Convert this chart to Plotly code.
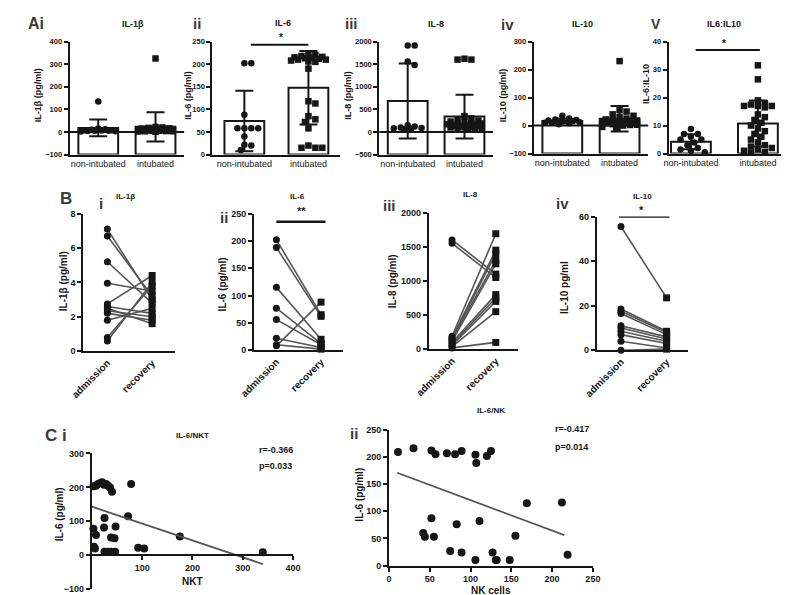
import numpy as np
import plotly.graph_objects as go

W, H = 789, 595
FONT = "Liberation Sans"
INK = "#161616"
GRAY = "#555555"

# ---------------- data: row A (non-intubated vs intubated) ----------------
groups_A = ["non-intubated", "intubated"]
il1b_non = [135, 15, 12, 10, 8, 8, 6, 5, 5, 4, 3, 2]
il1b_int = [325, 22, 20, 18, 16, 15, 14, 12, 12, 10, 10, 9, 8, 8, 7, 6, 6, 5, 5, 4, 3, 3, 2, 1]
il6_non = [202, 202, 88, 58, 58, 58, 58, 40, 22, 20, 10]
il6_int = [222, 220, 218, 216, 215, 214, 213, 212, 210, 210, 208, 206, 205, 190,
           118, 113, 85, 78, 72, 58, 20, 15, 15, 15]
il8_non = [1910, 1910, 1560, 1480, 150, 120, 100, 90, 80, 70, 60]
il8_int = [1600, 1620, 1600, 350, 300, 280, 250, 230, 220, 200, 190, 180, 170, 160,
           150, 140, 130, 120, 110, 100, 100, 90, 80, 70, 60]
il10_non = [35, 25, 22, 20, 18, 15, 15, 12, 10, 10, 8, 5]
il10_int = [230, 55, 50, 40, 35, 30, 25, 22, 20, 18, 15, 15, 12, 12, 10, 10, 8, 8,
            5, 5, 3, 2, 0, -5, -10]
ratio_non = [8.8, 7, 7, 6, 5, 5, 4, 3, 2, 1.5, 1, 0.5]
ratio_int = [31.5, 26.5, 19, 18, 17.5, 17, 17, 17, 16.5, 14, 13, 12, 11, 10, 9, 8,
             7, 6, 5, 4, 3, 2.5, 2, 1.5, 1, 0.5, 0.3]

ticks_il1b = [-100, 0, 100, 200, 300, 400]
ticks_il6 = [0, 50, 100, 150, 200, 250]
ticks_il8 = [-500, 0, 500, 1000, 1500, 2000]
ticks_il10 = [-100, 0, 100, 200, 300]
ticks_ratio = [0, 10, 20, 30, 40]

# ---------------- data: row B (admission vs recovery, paired) ----------------
groups_B = ["admission", "recovery"]
b_il1b_adm = [7.1, 6.7, 5.2, 3.95, 2.75, 2.6, 2.5, 2.35, 2.2, 1.8, 0.8, 0.6]
b_il1b_rec = [3.0, 3.2, 2.8, 3.5, 4.4, 2.2, 1.6, 2.0, 1.8, 2.5, 3.8, 4.0]
b_il6_adm = [202, 188, 115, 77, 56, 22, 10, 8]
b_il6_rec = [65, 62, 20, 12, 10, 5, 2, 88]
b_il8_adm = [1600, 1550, 190, 170, 150, 140, 120, 100, 80, 60, 40, 20]
b_il8_rec = [1100, 1050, 1690, 1450, 1400, 1300, 1250, 800, 750, 700, 550, 100]
b_il10_adm = [55.5, 18.5, 17.5, 16.5, 11, 10, 8.5, 7, 4, 0]
b_il10_rec = [23.5, 8.5, 8, 7, 6, 5, 4, 3, 1, 0.5]

ticks_b_il1b = [0, 2, 4, 6, 8]
ticks_b_il6 = [0, 50, 100, 150, 200, 250]
ticks_b_il8 = [0, 500, 1000, 1500, 2000]
ticks_b_il10 = [0, 20, 40, 60]

# ---------------- data: row C (correlations) ----------------
nkt_x = [3, 8, 12, 16, 20, 24, 28, 32, 36, 40, 78, 72, 175, 340, 3, 8, 4, 6,
         25, 24, 47, 38, 45, 25, 32, 38, 46, 92, 104]
nkt_il6 = [203, 205, 210, 212, 215, 208, 210, 205, 200, 187, 210, 115, 55, 9, 78, 60,
           25, 20, 110, 82, 85, 52, 50, 10, 10, 10, 10, 22, 20]
nkt_fit_x = [0, 340]
nkt_fit_y = [143, -26]
nk_x = [11, 30, 52, 57, 71, 81, 89, 106, 107, 120, 125, 169, 212, 52, 83, 111, 42,
        44, 55, 155, 75, 89, 106, 127, 131, 132, 148, 219]
nk_il6 = [209, 216, 212, 205, 207, 205, 211, 204, 189, 202, 211, 115, 116, 87, 76, 82,
          60, 53, 53, 55, 27, 24, 10, 24, 10, 10, 10, 20]
nk_fit_x = [10, 215]
nk_fit_y = [171, 56]
ticks_nkt_x = [100, 200, 300, 400]
ticks_nkt_y = [-100, 0, 100, 200, 300]
ticks_nk = [0, 50, 100, 150, 200, 250]


# ---------------- helpers ----------------
def PX(x):
    return x / W


def PY(y):
    return 1 - y / H


def ax(**kw):
    d = dict(showline=True, linecolor=INK, linewidth=2, showgrid=False, zeroline=False,
             ticks="outside", ticklen=4, tickwidth=2, tickcolor=INK,
             tickfont=dict(family=FONT, size=8, color=INK, weight="bold"),
             fixedrange=True)
    d.update(kw)
    return d


def swarm(vals, ypx, xpx, d=6.5, maxw=20):
    vals = np.asarray(vals, float)
    order = np.argsort(-vals)
    placed = []
    offs = np.zeros(len(vals))
    step = d * 0.55
    cands = [0.0]
    k = 1
    while k * step <= maxw:
        cands += [k * step, -k * step]
        k += 1
    for i in order:
        y = vals[i] * ypx
        best, bestscore = 0.0, -1
        for c in cands:
            md = min([np.hypot(c - a, y - b) for a, b in placed], default=1e9)
            if md >= d:
                best = c
                break
            if md > bestscore:
                bestscore, best = md, c
        offs[i] = best / xpx
        placed.append((best, y))
    return offs


fig = go.Figure()
layout = {}
shapes = []
annots = []


def names(i):
    return ("x" if i == 1 else f"x{i}"), ("y" if i == 1 else f"y{i}")


def lname(i, a):
    return f"{a}axis" if i == 1 else f"{a}axis{i}"


def txt(x, y, s, size=9, bold=True, angle=0, color=INK, xanchor="center"):
    annots.append(dict(x=PX(x), y=PY(y), xref="paper", yref="paper", text=s,
                       showarrow=False, textangle=angle, xanchor=xanchor, yanchor="middle",
                       font=dict(family=FONT, size=size, color=color,
                                 weight="bold" if bold else "normal")))


# ---------------- row A ----------------
A_panels = [
    dict(non=il1b_non, inn=il1b_int, xdom=(48, 166), xr=(-0.5, 1.5), ydom=(29, 144),
         yr=(-100, 400), ticks=ticks_il1b, zero=True),
    dict(non=il6_non, inn=il6_int, xdom=(195, 327), xr=(-0.5, 1.5), ydom=(29, 144),
         yr=(0, 250), ticks=ticks_il6, zero=False),
    dict(non=il8_non, inn=il8_int, xdom=(367, 484), xr=(-0.5, 1.5), ydom=(29, 144),
         yr=(-500, 2000), ticks=ticks_il8, zero=True),
    dict(non=il10_non, inn=il10_int, xdom=(526, 644), xr=(-0.5, 1.5), ydom=(29, 143),
         yr=(-100, 300), ticks=ticks_il10, zero=True),
    dict(non=ratio_non, inn=ratio_int, xdom=(665, 789), xr=(-0.333, 1.464), ydom=(29, 143),
         yr=(0, 40), ticks=ticks_ratio, zero=False),
]

for k, p in enumerate(A_panels):
    i = k + 1
    xs, ys = names(i)
    ymin, ymax = p["yr"]
    xpx = (p["xdom"][1] - p["xdom"][0]) / (p["xr"][1] - p["xr"][0])
    ypx = (p["ydom"][1] - p["ydom"][0]) / (ymax - ymin)
    bw = 41 / xpx
    for g, (vals, sym) in enumerate([(p["non"], "circle"), (p["inn"], "square")]):
        v = np.array(vals, float)
        m, sd = v.mean(), v.std(ddof=1)
        fig.add_trace(go.Bar(x=[g], y=[m - ymin], base=[ymin], width=bw, xaxis=xs, yaxis=ys,
                             marker=dict(color="white", line=dict(color=INK, width=2)),
                             showlegend=False, hoverinfo="skip"))
        fig.add_trace(go.Scatter(x=[g], y=[m], mode="markers", xaxis=xs, yaxis=ys,
                                 marker=dict(size=1, color="rgba(0,0,0,0)"),
                                 error_y=dict(type="data", array=[sd], color=INK,
                                              thickness=2, width=9),
                                 showlegend=False, hoverinfo="skip"))
        offs = swarm(v, ypx, xpx, d=6.5, maxw=19)
        fig.add_trace(go.Scatter(x=g + offs, y=v, mode="markers", xaxis=xs, yaxis=ys,
                                 marker=dict(symbol=sym, size=6.5, color=INK),
                                 cliponaxis=False, showlegend=False, hoverinfo="skip"))
    layout[lname(i, "x")] = ax(domain=[PX(p["xdom"][0]), PX(p["xdom"][1])], range=list(p["xr"]),
                               anchor=ys, tickvals=[0, 1], ticktext=groups_A, ticks="",
                               tickfont=dict(family=FONT, size=9, color=INK))
    layout[lname(i, "y")] = ax(domain=[PY(p["ydom"][1]), PY(p["ydom"][0])], range=[ymin, ymax],
                               anchor=xs, tickvals=p["ticks"],
                               tickfont=dict(family=FONT, size=7.5, color=INK, weight="bold"))
    if p["zero"]:
        shapes.append(dict(type="line", xref=f"{xs} domain", yref=ys, x0=0, x1=1, y0=0, y1=0,
                           line=dict(color=INK, width=2), layer="above"))

# significance bars row A
shapes.append(dict(type="line", xref="x2", yref="y2", x0=0.1, x1=1.0, y0=243, y1=243,
                   line=dict(color=INK, width=2)))
txt(266, 25, "*", size=10)
shapes.append(dict(type="line", xref="x5", yref="y5", x0=0.07, x1=1.03, y0=37, y1=37,
                   line=dict(color=INK, width=2)))
txt(722, 31, "*", size=10)

# ---------------- row B ----------------
B_panels = [
    dict(adm=b_il1b_adm, rec=b_il1b_rec, xdom=(62, 157), xr=(-0.54, 1.52), ydom=(204, 344),
         yr=(0, 8), ticks=ticks_b_il1b),
    dict(adm=b_il6_adm, rec=b_il6_rec, xdom=(238, 330), xr=(-0.5, 1.5), ydom=(204, 343),
         yr=(0, 250), ticks=ticks_b_il6),
    dict(adm=b_il8_adm, rec=b_il8_rec, xdom=(418, 510), xr=(-0.53, 1.51), ydom=(203, 342),
         yr=(0, 2000), ticks=ticks_b_il8),
    dict(adm=b_il10_adm, rec=b_il10_rec, xdom=(591, 685), xr=(-0.53, 1.47), ydom=(207, 343),
         yr=(0, 60), ticks=ticks_b_il10),
]
for k, p in enumerate(B_panels):
    i = k + 6
    xs, ys = names(i)
    lx, ly = [], []
    for a, r in zip(p["adm"], p["rec"]):
        lx += [0, 1, None]
        ly += [a, r, None]
    fig.add_trace(go.Scatter(x=lx, y=ly, mode="lines", xaxis=xs, yaxis=ys,
                             line=dict(color=GRAY, width=1.6), showlegend=False,
                             hoverinfo="skip", cliponaxis=False))
    fig.add_trace(go.Scatter(x=[0] * len(p["adm"]), y=p["adm"], mode="markers", xaxis=xs,
                             yaxis=ys, marker=dict(symbol="circle", size=7, color=INK),
                             cliponaxis=False, showlegend=False, hoverinfo="skip"))
    fig.add_trace(go.Scatter(x=[1] * len(p["rec"]), y=p["rec"], mode="markers", xaxis=xs,
                             yaxis=ys, marker=dict(symbol="square", size=7, color=INK),
                             cliponaxis=False, showlegend=False, hoverinfo="skip"))
    layout[lname(i, "x")] = ax(domain=[PX(p["xdom"][0]), PX(p["xdom"][1])], range=list(p["xr"]),
                               anchor=ys, tickvals=[0, 1], ticktext=groups_B, ticks="",
                               tickangle=-45,
                               tickfont=dict(family=FONT, size=10, color=INK, weight="bold"))
    layout[lname(i, "y")] = ax(domain=[PY(p["ydom"][1]), PY(p["ydom"][0])], range=list(p["yr"]),
                               anchor=xs, tickvals=p["ticks"],
                               tickfont=dict(family=FONT, size=9, color=INK, weight="bold"))

shapes.append(dict(type="line", xref="x7", yref="y7", x0=0, x1=1.1, y0=235, y1=235,
                   line=dict(color=INK, width=2.5)))
txt(287, 201, "**", size=11)
shapes.append(dict(type="line", xref="x9", yref="y9", x0=-0.04, x1=1.06, y0=60, y1=60,
                   line=dict(color=INK, width=2.5)))
txt(637, 200, "*", size=11)

# ---------------- row C ----------------
# Ci
fig.add_trace(go.Scatter(x=nkt_x, y=nkt_il6, mode="markers", xaxis="x10", yaxis="y10",
                         marker=dict(size=8, color=INK), cliponaxis=False,
                         showlegend=False, hoverinfo="skip"))
fig.add_trace(go.Scatter(x=nkt_fit_x, y=nkt_fit_y, mode="lines", xaxis="x10", yaxis="y10",
                         line=dict(color=GRAY, width=1.8), cliponaxis=False,
                         showlegend=False, hoverinfo="skip"))
layout["xaxis10"] = ax(domain=[PX(71), PX(278)], range=[0, 400], anchor="free",
                       position=PY(551), tickvals=ticks_nkt_x,
                       tickfont=dict(family=FONT, size=9, color=INK, weight="bold"))
layout["yaxis10"] = ax(domain=[PY(586), PY(448)], range=[-100, 300], anchor="x10",
                       tickvals=ticks_nkt_y,
                       tickfont=dict(family=FONT, size=9, color=INK, weight="bold"))
# Cii
fig.add_trace(go.Scatter(x=nk_x, y=nk_il6, mode="markers", xaxis="x11", yaxis="y11",
                         marker=dict(size=8, color=INK), cliponaxis=False,
                         showlegend=False, hoverinfo="skip"))
fig.add_trace(go.Scatter(x=nk_fit_x, y=nk_fit_y, mode="lines", xaxis="x11", yaxis="y11",
                         line=dict(color=GRAY, width=1.8), cliponaxis=False,
                         showlegend=False, hoverinfo="skip"))
layout["xaxis11"] = ax(domain=[PX(377), PX(587)], range=[0, 250], anchor="y11",
                       tickvals=ticks_nk,
                       tickfont=dict(family=FONT, size=9, color=INK, weight="bold"))
layout["yaxis11"] = ax(domain=[PY(562), PY(424)], range=[0, 250], anchor="x11",
                       tickvals=ticks_nk,
                       tickfont=dict(family=FONT, size=9, color=INK, weight="bold"))

# ---------------- text ----------------
PL = "#3a3a3a"
# panel labels
txt(13, 11, "Ai", size=16, color=PL)
txt(179, 11, "ii", size=15, color=PL)
txt(338, 11, "iii", size=15, color=PL)
txt(499, 12, "iv", size=15, color=PL)
txt(652, 11, "V", size=14, color=PL)
txt(44, 189, "B", size=17, color=PL)
txt(80, 194, "i", size=15, color=PL)
txt(207, 208, "ii", size=15, color=PL)
txt(378, 196, "iii", size=15, color=PL)
txt(556, 194, "iv", size=15, color=PL)
txt(34, 430, "C i", size=17, color=PL)
txt(341, 428, "ii", size=15, color=PL)

# panel titles
txt(113, 11, "IL-1β", size=9)
txt(268, 10, "IL-6", size=9)
txt(425, 11, "IL-8", size=9)
txt(576, 11, "IL-10", size=9)
txt(722, 11, "IL6:IL10", size=9)
txt(106, 187, "IL-1β", size=8)
txt(283, 187, "IL-6", size=8)
txt(461, 185, "IL-8", size=8)
txt(638, 187, "IL-10", size=8)
txt(175, 430, "IL-6/NKT", size=8)
txt(482, 404, "IL-6/NK", size=8)

# y-axis titles
txt(15, 84, "IL-1β (pg/ml)", size=9, angle=-90)
txt(170, 84, "IL-6 (pg/ml)", size=9, angle=-90)
txt(334, 84, "IL-8 (pg/ml)", size=9, angle=-90)
txt(494, 84, "IL-10 (pg/ml)", size=9, angle=-90)
txt(642, 72, "IL-6:IL-10", size=9, angle=-90)
txt(42, 273, "IL-1β (pg/ml)", size=10, angle=-90)
txt(205, 276, "IL-6 (pg/ml)", size=10, angle=-90)
txt(381, 273, "IL-8 (pg/ml)", size=10, angle=-90)
txt(558, 279, "IL-10 pg/ml", size=10, angle=-90)
txt(38, 510, "IL-6 (pg/ml)", size=10, angle=-90)
txt(347, 490, "IL-6 (pg/ml)", size=10, angle=-90)

# x-axis titles
txt(175, 578, "NKT", size=10)
txt(482, 587, "NK cells", size=10)

# stats
txt(241, 444, "r=-0.366", size=9, xanchor="left")
txt(241, 461, "p=0.033", size=9, xanchor="left")
txt(546, 423, "r=-0.417", size=9, xanchor="left")
txt(546, 441, "p=0.014", size=9, xanchor="left")

fig.update_layout(width=W, height=H, margin=dict(l=0, r=0, t=0, b=0),
                  paper_bgcolor="white", plot_bgcolor="rgba(0,0,0,0)",
                  showlegend=False, barmode="overlay",
                  font=dict(family=FONT, color=INK),
                  shapes=shapes, annotations=annots, **layout)

fig.write_html("out.html")
